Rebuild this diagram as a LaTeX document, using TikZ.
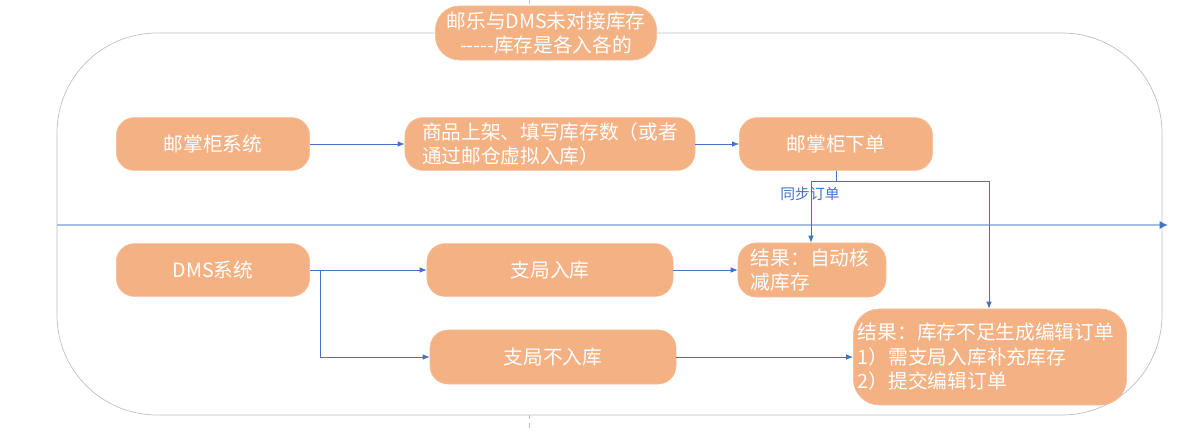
\documentclass[tikz,border=0pt]{standalone}
\usepackage{fontspec}
\setmainfont{Noto Sans CJK SC}
\usetikzlibrary{positioning,arrows.meta}

\definecolor{boxorange}{HTML}{F4B183}
\definecolor{linkblue}{HTML}{4472C4}
\definecolor{framegray}{HTML}{BFBFBF}
\definecolor{axisblue}{HTML}{A9BEE4}

\tikzset{
  box/.style={fill=boxorange,draw=boxorange!85!white,text=white,rounded corners=0.45cm,
    minimum width=4.83cm,minimum height=1.32cm,font=\fontsize{14}{17.5}\selectfont},
  link/.style={draw=linkblue,line width=0.6pt},
  frame/.style={draw=framegray,line width=0.5pt}
}

\begin{document}
\begin{tikzpicture}[x=0.025cm,y=-0.025cm,>={Latex[length=5pt,width=4pt]}]
  \useasboundingbox (0,0) rectangle (1204,432);

  % outer frame and middle line
  \draw[frame,rounded corners=2.5cm] (57,33) rectangle (1162,415);
  \draw[frame,dashed] (529,0) -- (529,33);
  \draw[frame,dashed] (529,415) -- (529,432);
  \coordinate (al) at (57,225);
  \coordinate (ar) at (1168,225);
  \draw[draw=axisblue,line width=1.4pt,-{Latex[length=6pt,width=6pt,color=linkblue]}] (al) -- (ar);

  \node[box,minimum width=5.53cm,minimum height=1.35cm,rounded corners=0.6cm,align=center] (title) at (546,33)
    {邮乐与DMS未对接库存\\{-}{-}{-}{-}{-}库存是各入各的};

  % upper row
  \node[box] (ymg) at (213,144) {邮掌柜系统};
  \node[box,minimum width=7.25cm,align=left] (sp) at (550,144) {商品上架、填写库存数（或者\\通过邮仓虚拟入库）};
  \node[box] (xd) at (836,144) {邮掌柜下单};

  % lower rows
  \node[box] (dms) at (213,270) {DMS系统};
  \node[box,minimum width=6.15cm] (zr) at (550,270) {支局入库};
  \node[box,minimum width=3.7cm,minimum height=1.35cm,text width=3.05cm,align=left] (zd) at (812,270)
    {结果：自动核\\减库存};
  \node[box,minimum width=6.15cm,minimum height=1.35cm] (zb) at (553,357) {支局不入库};
  \node[box,minimum width=6.83cm,minimum height=2.4cm,text width=6.6cm,inner xsep=2pt,rounded corners=0.65cm,align=left] (jg) at (990,357)
    {结果：库存不足生成编辑订单\\1）需支局入库补充库存\\2）提交编辑订单};

  \draw[link,->] (ymg) -- (sp);
  \draw[link,->] (sp) -- (xd);

  % split of the order
  \coordinate (sl) at (811,181);
  \coordinate (sr) at (989,181);
  \draw[link] (xd.south) -- (xd.south |- sl);
  \draw[link] (sl) -- (sr);
  \draw[link,->] (sl) -- (sl |- zd.north);
  \draw[link,->] (sr) -- (sr |- jg.north);
  \node[text=linkblue,font=\fontsize{10.5}{12}\selectfont] (tb) at (810,194) {同步订单};

  \coordinate (dj) at (320,270);
  \draw[link,->] (dms) -- (zr);
  \draw[link,->] (dj) |- (zb);
  \draw[link,->] (zr) -- (zd);
  \draw[link,->] (zb) -- (jg);
\end{tikzpicture}
\end{document}
